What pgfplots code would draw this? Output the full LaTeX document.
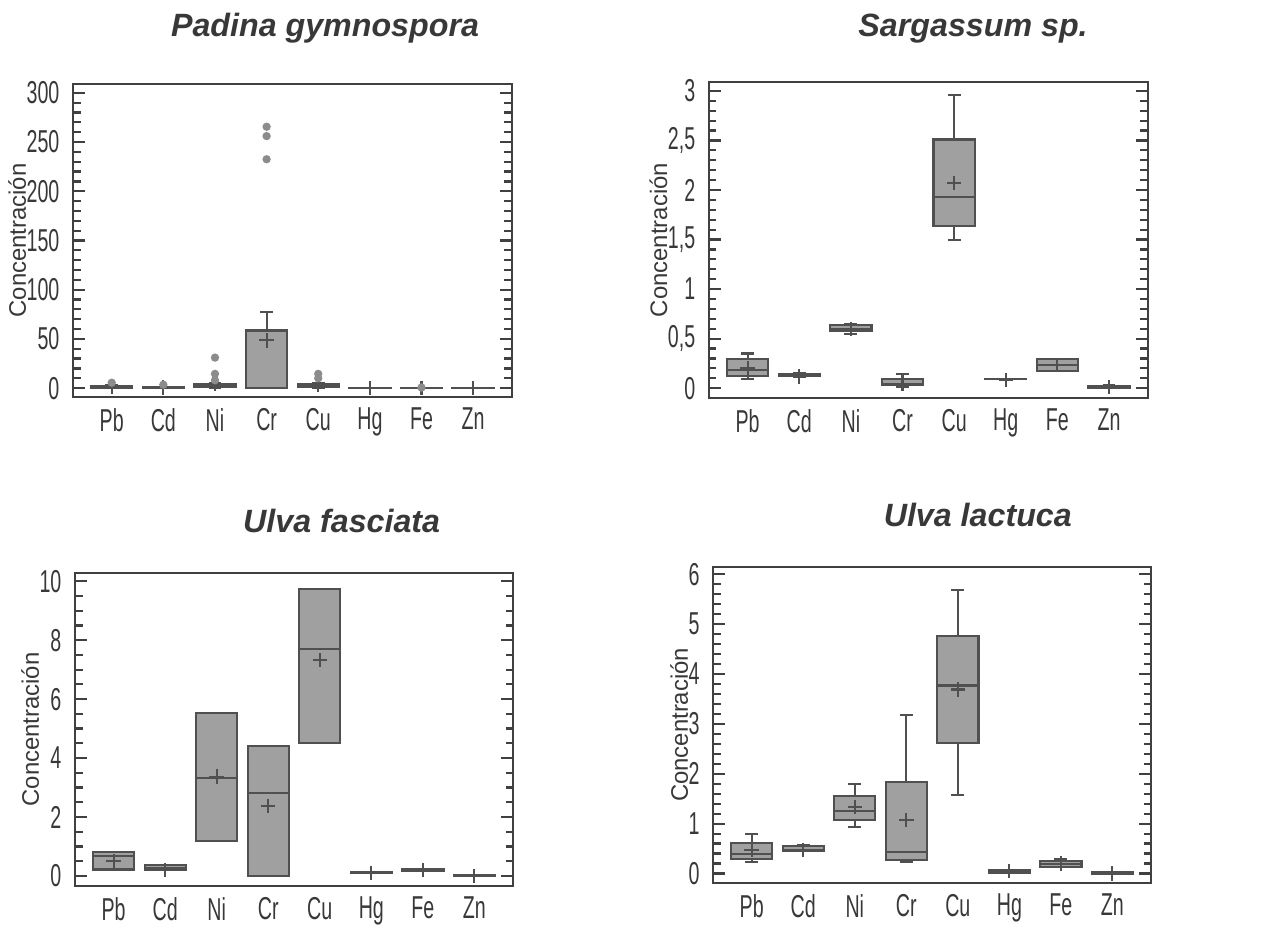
\documentclass[border=0pt]{standalone}
\usepackage{fontspec}
\setmainfont{Liberation Sans}
\newfontfamily\condfont[FakeStretch=0.62]{Liberation Sans}
\usepackage{pgfplots}
\pgfplotsset{compat=1.18}
\usepgfplotslibrary{statistics}

\definecolor{textgray}{HTML}{383838}
\definecolor{axgray}{HTML}{404040}
\definecolor{boxfill}{HTML}{A0A0A0}
\definecolor{boxdraw}{HTML}{505050}
\definecolor{meangray}{HTML}{999999}
\definecolor{outgray}{HTML}{8C8C8C}

\pgfplotsset{
  panel/.style={
    scale only axis, anchor=south west,
    xmin=0.25, xmax=8.75,
    xtick={1,...,8}, xticklabels={Pb,Cd,Ni,Cr,Cu,Hg,Fe,Zn},
    xtick style={draw=none},
    tick align=inside,
    major tick length=4.3pt, minor tick length=2.7pt,
    axis line style={draw=axgray, line width=0.9pt},
    every tick/.style={draw=axgray, line width=0.8pt},
    ticklabel style={font=\condfont\fontsize{11.4}{12}\selectfont, text=textgray, inner sep=0pt},
    yticklabel style={xshift=-4.7pt},
    xticklabel style={yshift=-3.8pt},
    /pgf/number format/assume math mode=true,
    /pgf/number format/use comma,
    ylabel={Concentración},
    ylabel style={font=\fontsize{8.6}{10}\selectfont, text=textgray, inner sep=0pt},
  },
  bx/.style={
    draw=boxdraw, line width=0.75pt, solid,
    mark=*, mark size=1.1pt, mark options={draw=outgray, fill=outgray},
    boxplot/draw direction=y,
    boxplot/box extend=0.8,
    boxplot/whisker extend=0.25,
    boxplot/every box/.style={draw=boxdraw, fill=boxfill},
    boxplot/every whisker/.style={draw=boxdraw},
    boxplot/every median/.style={draw=boxdraw},
    boxplot/every average/.style={/tikz/mark=+, /tikz/mark size=2.6pt, /tikz/draw=meangray, /tikz/line width=0.5pt},
  },
}

% position, lower whisker, lower quartile, median, upper quartile, upper whisker, average
\newcommand{\bx}[7]{\addplot[bx, boxplot prepared={draw position=#1,
  lower whisker=#2, lower quartile=#3, median=#4, upper quartile=#5,
  upper whisker=#6, average=#7}] coordinates {};}
% same, with outliers as last argument (values separated by \\)
\newcommand{\bxo}[8]{\addplot[bx, boxplot prepared={draw position=#1,
  lower whisker=#2, lower quartile=#3, median=#4, upper quartile=#5,
  upper whisker=#6, average=#7}] table[row sep=\\, header=false, y index=0] {#8};}

\begin{document}
\begin{tikzpicture}
\useasboundingbox (0,0) rectangle (454.32pt,333.72pt);

\node[anchor=base, font=\fontsize{11.6}{13}\selectfont\bfseries\itshape, text=textgray] at (117pt,320.4pt) {Padina gymnospora};
\node[anchor=base, font=\fontsize{11.6}{13}\selectfont\bfseries\itshape, text=textgray] at (350.3pt,320.4pt) {Sargassum sp.};
\node[anchor=base, font=\fontsize{11.6}{13}\selectfont\bfseries\itshape, text=textgray] at (123pt,141.9pt) {Ulva fasciata};
\node[anchor=base, font=\fontsize{11.6}{13}\selectfont\bfseries\itshape, text=textgray] at (352pt,144.1pt) {Ulva lactuca};

% Padina gymnospora
\begin{axis}[panel, at={(26.28pt,190.8pt)}, width=158pt, height=112.7pt,
  ymin=-9, ymax=309, ytick={0,50,...,300}, minor y tick num=4]
\bxo{1}{0}{0.3}{0.8}{2.3}{2.8}{1.2}{5.5\\}
\bxo{2}{0}{0.1}{0.3}{0.8}{1.0}{0.5}{3.5\\}
\bxo{3}{0.3}{1.5}{2.5}{4.5}{5.5}{4}{8\\14.5\\31\\}
\bxo{4}{0}{0.2}{0.5}{58.5}{77.5}{48.5}{232.5\\256\\265.5\\}
\bxo{5}{0.5}{1.5}{2.5}{4}{5}{3.5}{10\\14.5\\}
\bx{6}{0.05}{0.08}{0.1}{0.12}{0.15}{0.1}
\bxo{7}{0.1}{0.15}{0.2}{0.25}{0.3}{0.2}{0.6\\}
\bx{8}{0}{0.01}{0.02}{0.04}{0.05}{0.02}
\end{axis}

% Sargassum sp.
\begin{axis}[panel, at={(255.2pt,190.4pt)}, width=158pt, height=113.8pt,
  ymin=-0.1, ymax=3.09, ytick={0,0.5,...,3}, minor y tick num=4]
\bx{1}{0.09}{0.12}{0.18}{0.29}{0.35}{0.20}
\bx{2}{0.11}{0.125}{0.135}{0.145}{0.15}{0.12}
\bx{3}{0.55}{0.575}{0.60}{0.635}{0.65}{0.60}
\bx{4}{0.01}{0.03}{0.045}{0.095}{0.145}{0.045}
\bx{5}{1.5}{1.64}{1.93}{2.51}{2.96}{2.07}
\bx{6}{0.09}{0.09}{0.09}{0.092}{0.092}{0.085}
\bx{7}{0.17}{0.175}{0.235}{0.29}{0.29}{0.235}
\bx{8}{0}{0.002}{0.01}{0.025}{0.035}{0.01}
\end{axis}

% Ulva fasciata
\begin{axis}[panel, at={(27pt,14.76pt)}, width=157.7pt, height=112.7pt,
  ymin=-0.34, ymax=10.28, ytick={0,2,...,10}, minor y tick num=3]
\bx{1}{0.22}{0.22}{0.68}{0.80}{0.80}{0.51}
\bx{2}{0.22}{0.22}{0.27}{0.37}{0.37}{0.2}
\bx{3}{1.19}{1.19}{3.32}{5.54}{5.54}{3.37}
\bx{4}{0}{0}{2.83}{4.40}{4.40}{2.38}
\bx{5}{4.5}{4.5}{7.69}{9.73}{9.73}{7.32}
\bx{6}{0.11}{0.11}{0.11}{0.12}{0.12}{0.1}
\bx{7}{0.17}{0.17}{0.2}{0.25}{0.25}{0.2}
\bx{8}{0.01}{0.01}{0.01}{0.02}{0.02}{0}
\end{axis}

% Ulva lactuca
\begin{axis}[panel, at={(256.7pt,15.84pt)}, width=157.7pt, height=113.8pt,
  ymin=-0.19, ymax=6.15, ytick={0,1,...,6}, minor y tick num=4]
\bx{1}{0.24}{0.30}{0.39}{0.62}{0.79}{0.47}
\bx{2}{0.45}{0.45}{0.48}{0.55}{0.57}{0.47}
\bx{3}{0.93}{1.07}{1.26}{1.55}{1.80}{1.33}
\bx{4}{0.24}{0.27}{0.43}{1.84}{3.17}{1.07}
\bx{5}{1.58}{2.62}{3.77}{4.77}{5.69}{3.69}
\bx{6}{0.01}{0.015}{0.04}{0.065}{0.065}{0.05}
\bx{7}{0.13}{0.135}{0.2}{0.255}{0.29}{0.2}
\bx{8}{0}{0}{0.01}{0.03}{0.03}{0}
\end{axis}
\end{tikzpicture}
\end{document}
